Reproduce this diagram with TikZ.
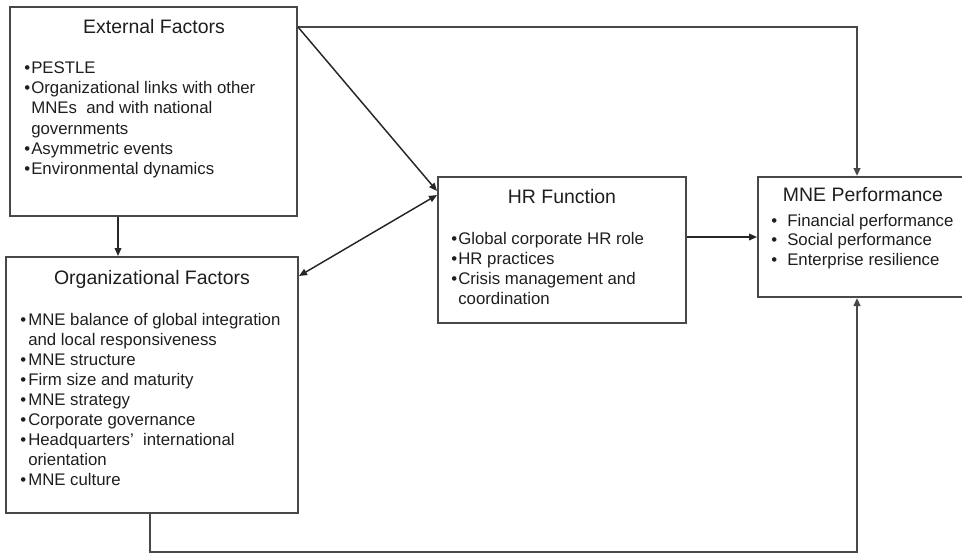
\documentclass[tikz,border=0pt]{standalone}
\usepackage{fontspec}
\setmainfont{Liberation Sans}
\usetikzlibrary{arrows.meta,fit}
\definecolor{frame}{HTML}{484848}
\definecolor{ink}{HTML}{1E1E1E}
% bullet item with a fixed gap before its text, and an indented continuation line
\newcommand\itm[2]{\makebox[#1][l]{\textbullet}#2}
\newcommand\cnt[2]{\hspace*{#1}#2}
\begin{document}
\begin{tikzpicture}[x=0.75pt,y=-0.75pt,
  box/.style={draw=frame,line width=1.5pt,inner sep=0pt},
  title/.style={font=\fontsize{14.6}{17}\selectfont,text=ink,anchor=base,inner sep=0pt},
  list/.style={font=\fontsize{12.6}{15}\selectfont,text=ink,align=left,anchor=north west,inner sep=0pt},
  elbow/.style={draw=frame,line width=1.5pt,-{Triangle[length=6pt,width=5pt]}},
  diag/.style={draw=black!85,line width=1.1pt},
  tip/.style={-{Triangle[length=6pt,width=5pt]}},
  twotip/.style={{Triangle[length=6pt,width=5pt]}-{Triangle[length=6pt,width=5pt]}}]
\useasboundingbox (0,0) rectangle (962,553);
\clip (0,0) rectangle (962,553);

% boxes
\node[box,fit={(10,7)(297,216)}] (ext) {};
\node[box,fit={(6,257)(298,513)}] (org) {};
\node[box,fit={(438,177)(686,323)}] (hr) {};
\node[box,fit={(758,177)(968,297)}] (perf) {};

% titles
\node[title] (exttitle) at (154,33) {External Factors};
\node[title] (orgtitle) at (152,284) {Organizational Factors};
\node[title] (hrtitle) at (562,203) {HR Function};
\node[title] (perftitle) at (863,201) {MNE Performance};

% lists
\node[list] (extlist) at (24,62) {%
\itm{5.25pt}{PESTLE}\\
\itm{5.25pt}{Organizational links with other}\\
\cnt{5.25pt}{MNEs\ \ and with national}\\
\cnt{5.25pt}{governments}\\
\itm{5.25pt}{Asymmetric events}\\
\itm{5.25pt}{Environmental dynamics}};

\node[list] (orglist) at (20,313) {%
\itm{6pt}{MNE balance of global integration}\\
\cnt{6pt}{and local responsiveness}\\
\itm{6pt}{MNE structure}\\
\itm{6pt}{Firm size and maturity}\\
\itm{6pt}{MNE strategy}\\
\itm{6pt}{Corporate governance}\\
\itm{6pt}{Headquarters’\hspace{7pt}international}\\
\cnt{6pt}{orientation}\\
\itm{6pt}{MNE culture}};

\node[list] (hrlist) at (451,232) {%
\itm{5.25pt}{Global corporate HR role}\\
\itm{5.25pt}{HR practices}\\
\itm{5.25pt}{Crisis management and}\\
\cnt{5.25pt}{coordination}};

\node[list,font=\fontsize{12.6}{14.6}\selectfont] (perflist) at (771,214) {%
\itm{12pt}{Financial performance}\\
\itm{12pt}{Social performance}\\
\itm{12pt}{Enterprise resilience}};

% connectors
\draw[elbow] ([yshift=-15.75pt]ext.north east) -| ([xshift=75pt]perf.north west);
\draw[diag,tip] ([yshift=-15.75pt]ext.north east) -- ([yshift=-11.25pt]hr.north west);
\draw[diag,twotip] ([yshift=-15pt]org.north east) -- ([yshift=-14.25pt]hr.north west);
\draw[diag,tip] ([xshift=81.75pt]ext.south west) -- ([xshift=84.75pt]org.north west);
\draw[diag,tip] (hr.east |- perf.west) -- (perf.west);
\draw[elbow] ([xshift=108.75pt]org.south west) -- ++(0,38) -| ([xshift=75pt]perf.south west);
\end{tikzpicture}
\end{document}
